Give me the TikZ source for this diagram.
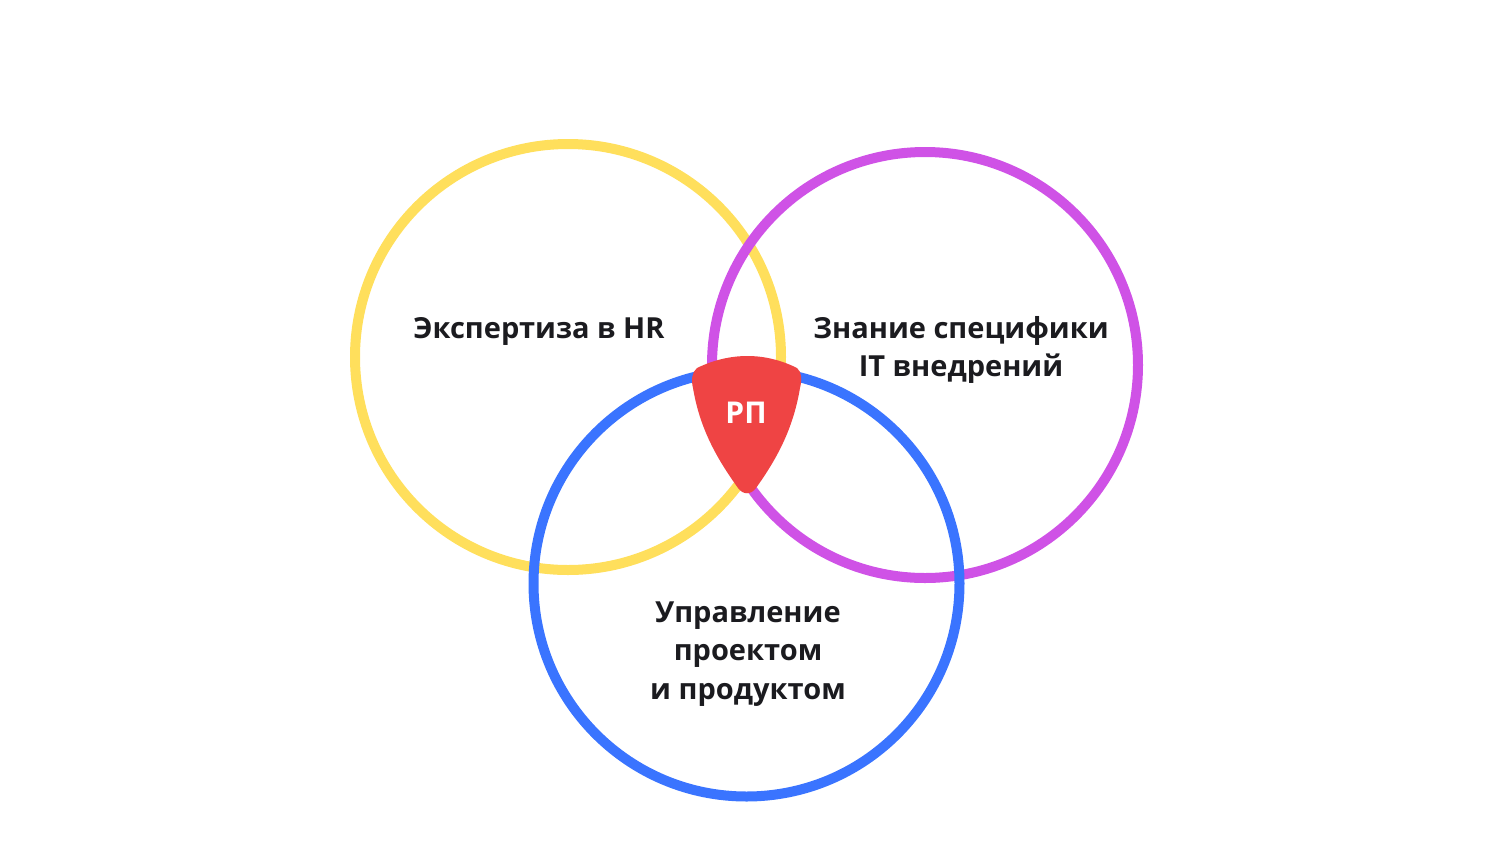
\documentclass[tikz,border=0pt]{standalone}
\usepackage{fontspec}
\setmainfont{Open Sans}
\usepackage{tikz}
\definecolor{hryellow}{HTML}{FFDF5C}
\definecolor{itviolet}{HTML}{CF52E6}
\definecolor{pmblue}{HTML}{3A74FF}
\definecolor{rpred}{HTML}{EF4444}
\definecolor{ink}{HTML}{1B1B1F}
\tikzset{
  ring/.style={circle, line width=10pt, minimum size=426pt, inner sep=0pt},
  lbl/.style={font=\fontsize{29}{38.5}\selectfont\bfseries, text=ink, align=center, inner sep=0pt},
  rptext/.style={font=\fontsize{30}{36}\selectfont\bfseries, text=white, inner sep=0pt}
}
\begin{document}
\begin{tikzpicture}[x=1pt, y=-1pt]
\useasboundingbox (0,0) rectangle (1500,863);
% three circles
\node[ring, draw=hryellow] (hr) at (568,357) {};
\node[ring, draw=itviolet] (it) at (925,365) {};
\node[ring, draw=pmblue] (pm) at (746.5,583.5) {};
% centre piece
\fill[rpred] (697,368) .. controls (730,352) and (765,352) .. (797,368)
  .. controls (802,372) and (802,380) .. (800,388)
  .. controls (793,430) and (776,460) .. (756,488)
  .. controls (751,495) and (743,495) .. (738,488)
  .. controls (718,460) and (700,430) .. (693,388)
  .. controls (691,380) and (692,372) .. (697,368) -- cycle;
\node[rptext] (rp) at (746,413) {РП};
% labels
\node[lbl, anchor=base] (hrtext) at (539,338) {Экспертиза в HR};
\node[lbl] (ittext) at (961,350) {Знание специфики\\IT внедрений};
\node[lbl] (pmtext) at (748,654) {Управление\\проектом\\и продуктом};
\end{tikzpicture}
\end{document}
